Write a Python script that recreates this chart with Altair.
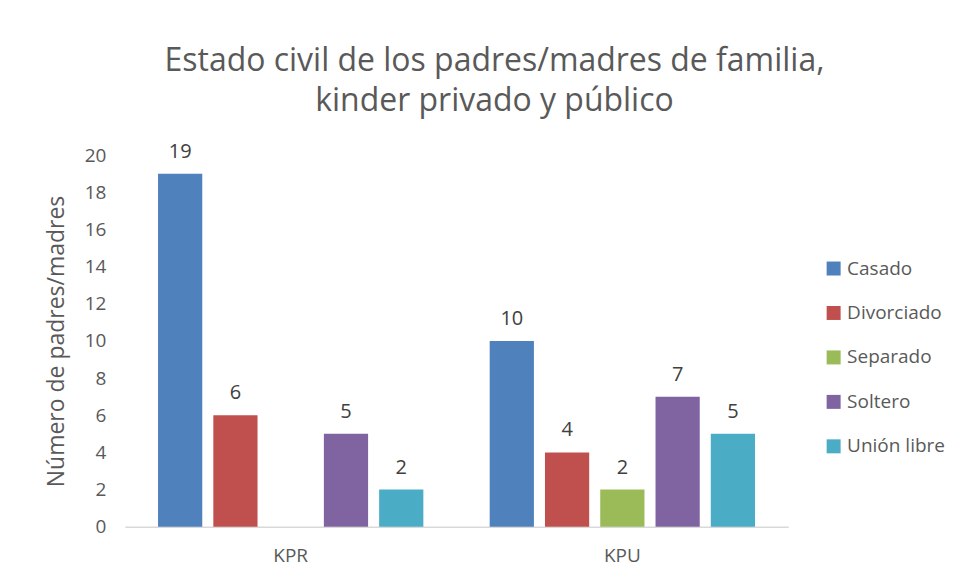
import altair as alt
import pandas as pd

groups = ["KPR", "KPU"]
categories = ["Casado", "Divorciado", "Separado", "Soltero", "Unión libre"]
kpr_values = [19, 6, 0, 5, 2]
kpu_values = [10, 4, 2, 7, 5]
colors = ["#4F81BD", "#C0504D", "#9BBB59", "#8064A2", "#4BACC6"]

rows = []
for g, vals in zip(groups, [kpr_values, kpu_values]):
    for c, v in zip(categories, vals):
        rows.append({"grupo": g, "estado": c, "valor": v})
df = pd.DataFrame(rows)

FONT = "Open Sans"
GREY = "#595959"

base = alt.Chart(df).encode(
    x=alt.X("grupo:N", sort=groups,
            scale=alt.Scale(paddingInner=0.2, paddingOuter=0.1),
            axis=alt.Axis(title=None, labelAngle=0, ticks=False, domainColor="#D9D9D9",
                          domainWidth=1.5, labelPadding=20, grid=False)),
    xOffset=alt.XOffset("estado:N", sort=categories,
                        scale=alt.Scale(paddingInner=0.2, paddingOuter=0)),
    y=alt.Y("valor:Q", scale=alt.Scale(domain=[0, 20]),
            axis=alt.Axis(title="Número de padres/madres", values=list(range(0, 21, 2)),
                          grid=False, domain=False, ticks=False, labelPadding=19,
                          labelOverlap=False, titleFontSize=23, titlePadding=16)),
)

bars = base.mark_bar().encode(
    color=alt.Color("estado:N", sort=categories,
                    scale=alt.Scale(domain=categories, range=colors),
                    legend=alt.Legend(title=None, symbolType="square", symbolSize=196,
                                      symbolStrokeWidth=0, labelFontSize=19,
                                      labelColor=GREY, labelFont=FONT, rowPadding=24.5,
                                      orient="none", legendX=700, legendY=104,
                                      labelOffset=4)),
)

labels = base.mark_text(baseline="bottom", dy=-12, fontSize=20, color="#404040",
                        font=FONT).encode(
    text=alt.Text("valor:Q"),
).transform_filter("datum.valor > 0")

chart = (bars + labels).properties(
    width=664,
    height=372,
    background="white",
    title=alt.Title(["Estado civil de los padres/madres de familia,",
                     "kinder privado y público"],
                    fontSize=32, font=FONT, fontWeight="normal", color=GREY,
                    anchor="middle", frame="group", dx=38, lineHeight=40, offset=24),
    autosize=alt.AutoSizeParams(type="none"),
    padding={"left": 117, "top": 147, "right": 170, "bottom": 45},
).configure_view(
    strokeWidth=0
).configure_axis(
    labelFontSize=19, labelColor=GREY, labelFont=FONT,
    titleFontWeight="normal", titleColor=GREY, titleFont=FONT,
)

chart.save("out.html", embed_options={"renderer": "svg", "actions": False})
